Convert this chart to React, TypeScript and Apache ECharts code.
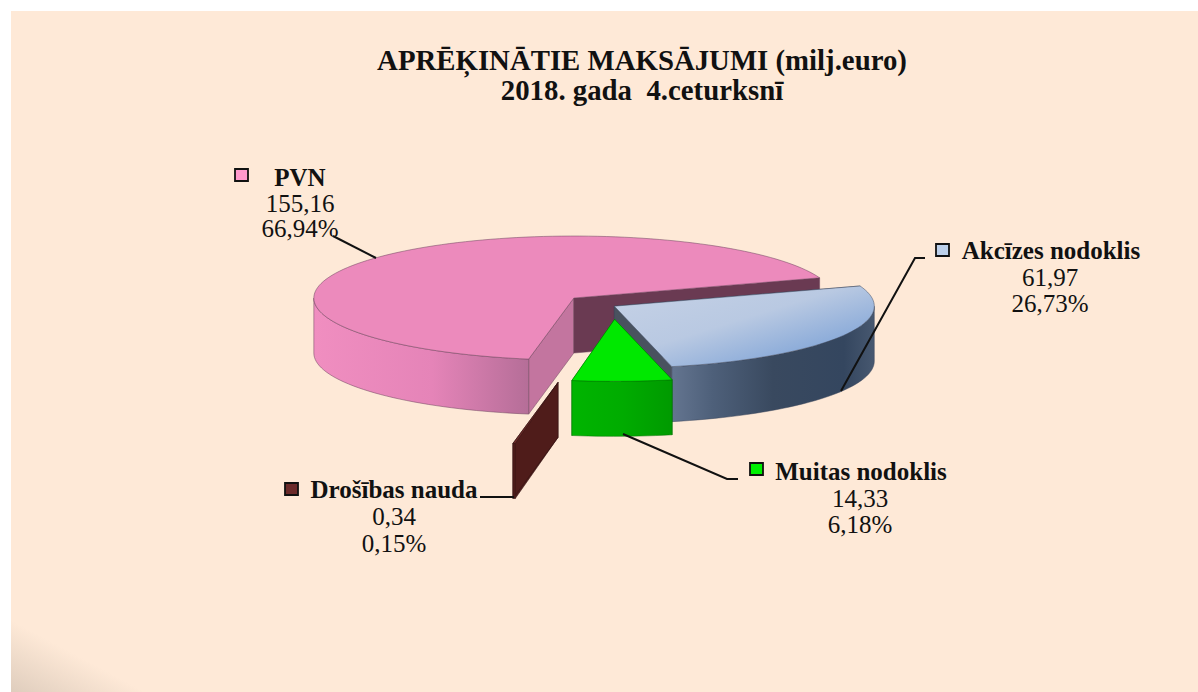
import React, { useEffect, useRef } from "react";
import * as echarts from "echarts";

const names = ["PVN", "Akcīzes nodoklis", "Muitas nodoklis", "Drošības nauda"];
const values = [155.16, 61.97, 14.33, 0.34];
const shares = [66.94, 26.73, 6.18, 0.15];
const titleLines = ["APRĒĶINĀTIE MAKSĀJUMI (milj.euro)", "2018. gada  4.ceturksnī"];

const FONT = "'Liberation Serif', 'Times New Roman', serif";
const PAGE = "#FEE9D7";
const CX = 613, CY = 306, RX = 260, RY = 62, DEPTH = 55, START = -100;
const explode = [51.5, 1.5, 56, 325];

const grad = (stops: [number, string][], x = 0, y = 0, x2 = 1, y2 = 0) =>
  new echarts.graphic.LinearGradient(x, y, x2, y2, stops.map(([offset, color]) => ({ offset, color })));

const looks: any[] = [
  {
    top: "#EC8ABC",
    wall: grad([[0, "#F08EC0"], [0.55, "#E584B8"], [1, "#B56E98"]]),
    faceStart: "#C3759F", faceEnd: "#6A3A52", stroke: "rgba(110,70,95,0.65)",
  },
  {
    top: grad([[0, "#C6D2E6"], [0.45, "#B9C9E2"], [0.8, "#86A8D8"], [1, "#6A96D2"]], 0, 0, 1, 1),
    wall: grad([[0, "#647590"], [0.2, "#4E607A"], [0.5, "#39495F"], [0.85, "#34465F"], [1, "#475870"]]),
    faceStart: "#4A5568", faceEnd: "#49525F", stroke: "rgba(60,70,90,0.6)",
  },
  {
    top: "#00E800",
    wall: grad([[0, "#00B400"], [0.5, "#00AC00"], [1, "#009A00"]]),
    faceStart: "#009A00", faceEnd: "#009A00", stroke: "rgba(0,110,0,0.6)",
  },
  {
    top: "#6B2A28",
    wall: "#4F1C1A",
    faceStart: "#4F1C1A", faceEnd: "#4F1C1A", stroke: "rgba(50,20,20,0.7)",
  },
];

const fmt = (v: number) => v.toFixed(2).replace(".", ",");

function renderSlice(params: any, api: any) {
  const i = params.dataIndex;
  const total = values.reduce((a, b) => a + b, 0);
  const before = values.slice(0, i).reduce((a, b) => a + b, 0);
  const a0 = START - (before / total) * 360;
  const a1 = a0 - (api.value(0) / total) * 360;
  const mid = ((a0 + a1) / 2) * (Math.PI / 180);
  const ox = CX + explode[i] * Math.cos(mid);
  const oy = CY - explode[i] * Math.sin(mid) * (RY / RX);
  const rim = (deg: number, drop = 0): number[] => [
    ox + RX * Math.cos((deg * Math.PI) / 180),
    oy - RY * Math.sin((deg * Math.PI) / 180) + drop,
  ];
  const arc = (from: number, to: number, drop = 0) => {
    const n = Math.max(2, Math.ceil(Math.abs(to - from) / 2));
    const pts: number[][] = [];
    for (let k = 0; k <= n; k++) pts.push(rim(from + ((to - from) * k) / n, drop));
    return pts;
  };
  const look = looks[i];
  const lw = 0.8;
  const face = (deg: number, fill: string) => ({
    type: "polygon",
    shape: { points: [[ox, oy], rim(deg), rim(deg, DEPTH), [ox, oy + DEPTH]] },
    style: { fill, stroke: look.stroke, lineWidth: lw },
  });
  const children: any[] = [face(a0, look.faceStart), face(a1, look.faceEnd)];
  for (const k of [0, -1, -2]) {
    const hi = Math.min(360 * k, a0);
    const lo = Math.max(360 * k - 180, a1);
    if (hi > lo) {
      children.push({
        type: "polygon",
        shape: { points: [...arc(lo, hi), ...arc(hi, lo, DEPTH)] },
        style: { fill: look.wall, stroke: look.stroke, lineWidth: lw },
      });
    }
  }
  children.push({
    type: "polygon",
    shape: { points: [[ox, oy], ...arc(a0, a1)] },
    style: { fill: look.top, stroke: look.stroke, lineWidth: lw },
  });
  return { type: "group", children };
}

const labelAnchors = [
  { mx: 235, my: 169, head: 300, headY: 177, cx: 300, y1: 203, y2: 228, fill: "#FF99CC" },
  { mx: 936, my: 244, head: 1051, headY: 250, cx: 1050, y1: 277, y2: 303, fill: "#BDD0EA" },
  { mx: 750, my: 463, head: 861, headY: 471, cx: 860, y1: 498, y2: 524, fill: "#00F000" },
  { mx: 285, my: 483, head: 394, headY: 489, cx: 394, y1: 516, y2: 543, fill: "#6B2A2A" },
];

const leaders = [
  [[333, 236], [376, 258]],
  [[925, 258], [915, 258], [841, 391]],
  [[623, 434], [727, 479], [738, 479]],
  [[480, 497], [514, 497]],
];

const txt = (text: string, x: number, y: number, bold: boolean, size = 25) => ({
  type: "text",
  z: 20,
  style: {
    text, x, y, fill: "#111", font: `${bold ? "bold " : ""}${size}px ${FONT}`,
    textAlign: "center", textVerticalAlign: "middle",
  },
});

export default function App() {
  const ref = useRef<HTMLDivElement>(null);
  useEffect(() => {
    const chart = echarts.init(ref.current!, null, { renderer: "svg" });
    const graphics: any[] = [
      { type: "rect", z: -10, shape: { x: 11, y: 11, width: 1187, height: 681 }, style: { fill: PAGE } },
      {
        type: "rect", z: -9, shape: { x: 11, y: 600, width: 200, height: 92 },
        style: {
          fill: new echarts.graphic.LinearGradient(11, 692, 41, 636,
            [{ offset: 0, color: "#DFCDBD" }, { offset: 1, color: PAGE }], true),
        },
      },
    ];
    labelAnchors.forEach((a, i) => {
      graphics.push(
        { type: "rect", z: 20, shape: { x: a.mx, y: a.my, width: 13, height: 12 }, style: { fill: a.fill, stroke: "#111", lineWidth: 1.8 } },
        txt(names[i], a.head, a.headY, true),
        txt(fmt(values[i]), a.cx, a.y1, false),
        txt(fmt(shares[i]) + "%", a.cx, a.y2, false),
        { type: "polyline", z: 20, shape: { points: leaders[i] }, style: { fill: "none", stroke: "#111", lineWidth: 2 } },
      );
    });
    chart.setOption({
      animation: false,
      backgroundColor: "#FFFFFF",
      title: {
        text: titleLines.join("\n"),
        left: 637,
        top: 40,
        textAlign: "center",
        textStyle: { fontFamily: FONT, fontWeight: "bold", fontSize: 28.8, lineHeight: 30, color: "#111" },
      },
      graphic: graphics,
      series: [
        {
          type: "custom",
          coordinateSystem: "none",
          data: values.map((v, i) => ({ name: names[i], value: [v] })),
          renderItem: renderSlice,
          silent: true,
          z: 5,
        },
      ],
    });
    return () => chart.dispose();
  }, []);
  return <div ref={ref} style={{ position: "absolute", left: 0, top: 0, width: 1198, height: 692 }} />;
}
